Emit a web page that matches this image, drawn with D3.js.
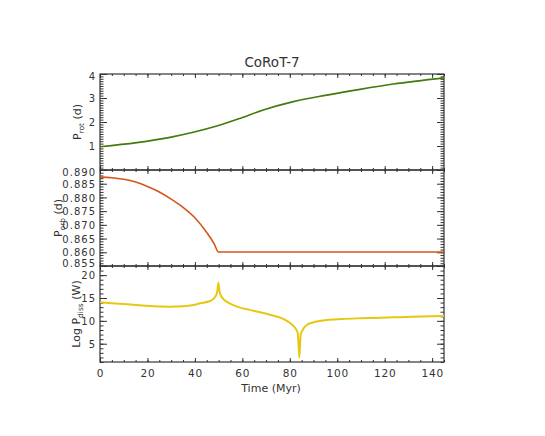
<!DOCTYPE html>
<html>
<head>
<meta charset="utf-8">
<script src="https://cdn.jsdelivr.net/npm/d3@7"></script>
<style>
  body { margin: 0; background: #fff; }
  text { font-family: "DejaVu Sans", sans-serif; fill: #333; }
</style>
</head>
<body>
<div id="vis"></div>
<script>
// ---- data ----
const TITLE = "CoRoT-7";
const X_TICKS = [0, 20, 40, 60, 80, 100, 120, 140];

const timeRot = [0, 15.5, 29.5, 39.3, 49.2, 59, 68.8, 81.5, 95.6, 109.6, 123.6, 145];
const pRot    = [0.97, 1.14, 1.36, 1.57, 1.83, 2.15, 2.5, 2.85, 3.12, 3.36, 3.58, 3.84];

const timeOrb = [0, 5, 10, 15, 20, 25, 30, 35, 40, 45, 48, 50, 145];
const pOrb    = [0.8874, 0.8872, 0.8866, 0.8856, 0.8840, 0.8820, 0.8794, 0.8764, 0.8726, 0.8672, 0.8633, 0.8601, 0.8601];

const timeDiss = [0, 5, 11.3, 19.7, 29.5, 35, 39.3, 42.2, 46.4, 48.5, 49.4, 49.9, 50.4, 51.3, 53.4, 56, 59,
                  63, 67.5, 72, 76.5, 80, 81.5, 82.7, 83.4, 84, 84.6, 85.3, 87.1, 90, 95.6, 102, 109.6, 123.6, 135, 145];
const logDiss  = [14.05, 13.85, 13.65, 13.3, 13.1, 13.2, 13.47, 13.84, 14.34, 15.2, 16.3, 18.35, 16.4, 15.2, 14.2, 13.5, 12.9,
                  12.4, 11.9, 11.3, 10.6, 9.6, 8.9, 8.1, 7.2, 2.0, 7.0, 7.9, 9.1, 9.7, 10.2, 10.4, 10.56, 10.77, 10.95, 11.06];

const ROT_TICKS  = [1, 2, 3, 4];
const ORB_TICKS  = [0.855, 0.860, 0.865, 0.870, 0.875, 0.880, 0.885, 0.890];
const DISS_TICKS = [5, 10, 15, 20];

// ---- layout ----
const WIDTH = 545, HEIGHT = 436;
const LEFT = 100, RIGHT = 444;
const FONT = 11, TICK_FONT = 10;

const panels = [
  { top: 74,  bottom: 170, domain: [0, 4],         ticks: ROT_TICKS,  minor: 0.1,   fmt: d3.format("d"),
    xs: timeRot,  ys: pRot,     color: "#427a0c", label: ["P", "rot", " (d)"], labelX: 81 },
  { top: 170, bottom: 266, domain: [0.855, 0.890], ticks: ORB_TICKS,  minor: 0.001, fmt: d3.format(".3f"),
    xs: timeOrb,  ys: pOrb,     color: "#d3561a", label: ["P", "orb", " (d)"], labelX: 62 },
  { top: 266, bottom: 362, domain: [1, 22],        ticks: DISS_TICKS, minor: 1,     fmt: d3.format("d"),
    xs: timeDiss, ys: logDiss,  color: "#e6c812", label: ["Log  P", "diss", " (W)"], labelX: 80 }
];

const svg = d3.select("#vis").append("svg")
    .attr("width", WIDTH)
    .attr("height", HEIGHT);

const X_SCALE = d3.scaleLinear().domain([0, 145]).range([LEFT, RIGHT]);
const X_MINOR = d3.range(0, 146, 5);

panels.forEach((p, i) => {
  const y = d3.scaleLinear().domain(p.domain).range([p.bottom, p.top]);
  const yMinor = d3.range(Math.round(p.domain[0] / p.minor), Math.round(p.domain[1] / p.minor) + 1)
      .map(k => +(k * p.minor).toFixed(4));

  // y minor ticks left + right
  svg.append("g").attr("transform", "translate(" + LEFT + ",0)")
      .call(d3.axisLeft(y).tickValues(yMinor).tickSize(-3.5).tickFormat(""));
  svg.append("g").attr("transform", "translate(" + RIGHT + ",0)")
      .call(d3.axisRight(y).tickValues(yMinor).tickSize(-3.5).tickFormat(""));
  // y major ticks
  const yAxis = svg.append("g").attr("transform", "translate(" + LEFT + ",0)")
      .call(d3.axisLeft(y).tickValues(p.ticks).tickSize(-7).tickPadding(4).tickFormat(p.fmt));
  svg.append("g").attr("transform", "translate(" + RIGHT + ",0)")
      .call(d3.axisRight(y).tickValues(p.ticks).tickSize(-7).tickFormat(""));

  // end labels are nudged inside the panel, as in the reference
  yAxis.selectAll(".tick text")
      .attr("font-size", TICK_FONT)
      .attr("letter-spacing", 1)
      .attr("dy", d => {
        const py = y(d);
        if (Math.abs(py - p.top) < 2) return 5.8;
        if (Math.abs(py - p.bottom) < 2) return 0;
        return 3.6;
      });

  // x ticks on top and bottom of each panel
  [[p.top, d3.axisTop], [p.bottom, d3.axisBottom]].forEach(([py, ax]) => {
    svg.append("g").attr("transform", "translate(0," + py + ")")
        .call(ax(X_SCALE).tickValues(X_MINOR).tickSize(-2).tickFormat(""));
    svg.append("g").attr("transform", "translate(0," + py + ")")
        .call(ax(X_SCALE).tickValues(X_TICKS).tickSize(-4).tickFormat(""));
  });

  // frame
  svg.append("rect")
      .attr("x", LEFT).attr("y", p.top)
      .attr("width", RIGHT - LEFT).attr("height", p.bottom - p.top)
      .attr("fill", "none").attr("stroke", "#333").attr("stroke-width", 1.2);

  // curve
  const pts = p.xs.map((t, k) => [t, p.ys[k]]);
  svg.append("path")
      .datum(pts)
      .attr("fill", "none")
      .attr("stroke", p.color)
      .attr("stroke-width", i === 2 ? 2 : 1.6)
      .attr("d", d3.line().x(d => X_SCALE(d[0])).y(d => y(d[1])).curve(d3.curveMonotoneX));

  // y label with subscript
  const lab = svg.append("text")
      .attr("transform", "translate(" + p.labelX + "," + ((p.top + p.bottom) / 2) + ") rotate(-90)")
      .attr("text-anchor", "middle")
      .attr("font-size", FONT);
  lab.append("tspan").text(p.label[0]);
  lab.append("tspan").attr("font-size", 7.5).attr("dy", 3).text(p.label[1]);
  lab.append("tspan").attr("dy", -3).text(p.label[2]);
});

// x tick labels under the last panel
svg.append("g").attr("transform", "translate(0," + panels[2].bottom + ")")
    .call(d3.axisBottom(X_SCALE).tickValues(X_TICKS).tickSize(0).tickPadding(8))
    .selectAll("text").attr("font-size", TICK_FONT + 0.5).attr("letter-spacing", 0.8);

svg.selectAll(".domain").remove();
svg.selectAll(".tick line").attr("stroke", "#333").attr("stroke-width", 1);

svg.append("text")
    .attr("x", (LEFT + RIGHT) / 2 - 1).attr("y", 392)
    .attr("text-anchor", "middle").attr("font-size", FONT)
    .text("Time (Myr)");

svg.append("text")
    .attr("x", (LEFT + RIGHT) / 2).attr("y", 67)
    .attr("text-anchor", "middle").attr("font-size", 13.5)
    .text(TITLE);
</script>
</body>
</html>
